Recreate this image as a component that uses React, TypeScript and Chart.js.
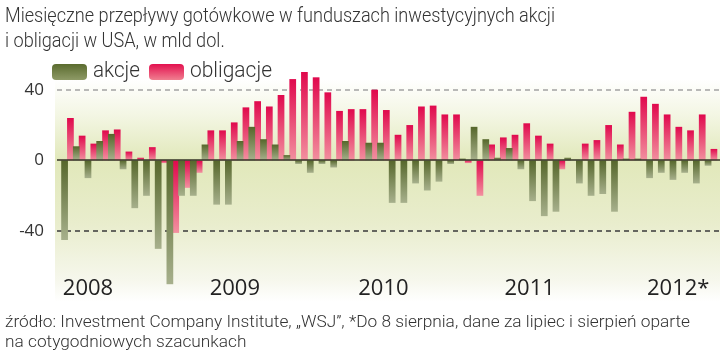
import React, { useEffect, useRef } from 'react';
import { Chart, registerables } from 'chart.js';

Chart.register(...registerables);

// ---- DATA ----
const months = [
  '2008-01','2008-02','2008-03','2008-04','2008-05','2008-06','2008-07','2008-08','2008-09','2008-10','2008-11','2008-12',
  '2009-01','2009-02','2009-03','2009-04','2009-05','2009-06','2009-07','2009-08','2009-09','2009-10','2009-11','2009-12',
  '2010-01','2010-02','2010-03','2010-04','2010-05','2010-06','2010-07','2010-08','2010-09','2010-10','2010-11','2010-12',
  '2011-01','2011-02','2011-03','2011-04','2011-05','2011-06','2011-07','2011-08','2011-09','2011-10','2011-11','2011-12',
  '2012-01','2012-02','2012-03','2012-04','2012-05','2012-06','2012-07','2012-08',
];

const akcje = [
  -45, 8, -10, 11, 15, -5, -27, -20, -50, -70, -20, -20,
  9, -25, -25, 11, 19, 12, 9, 3, -2, -7, -2, -4,
  11, 0, 10, 10, -24, -24, -13, -17, -12, -2, 1, 19,
  12, 1.5, 7, -5, -23, -31.5, -29, 1.5, -13, -20, -19, -29,
  1, 1, -10, -7, -11, -7, -13, -3,
];

const obligacje = [
  24, 14, 9.5, 17, 17.5, 5, 1.5, 7.5, -1.5, -41, -15.5, -7,
  17, 17, 21.5, 30, 33.5, 30.5, 37, 46, 50, 47, 38.5, 28,
  29, 29, 40, 28.5, 14.5, 20, 30.5, 31, 26, 26, -1.5, -20,
  9, 13, 14.5, 21, 14, 9.5, -5, 0, 9.5, 11.5, 20, 9,
  27.5, 36, 32, 26, 19, 17, 26, 6.5,
];

const yTickValues = [-40, 0, 40];
const yearLabels = ['2008', '2009', '2010', '2011', '2012*'];
const yearTickAt = [1.75, 14.3, 27, 39.5, 52.2];

const titleLines = [
  'Miesięczne przepływy gotówkowe w funduszach inwestycyjnych akcji',
  'i obligacji w USA, w mld dol.',
];
const legendLabels = ['akcje', 'obligacje'];
const footerLines = [
  'źródło: Investment Company Institute, „WSJ”, *Do 8 sierpnia, dane za lipiec i sierpień oparte',
  'na cotygodniowych szacunkach',
];

// ---- STYLES ----
const GREEN_TOP = '#56672b';
const GREEN_BOT = '#a7b08c';
const RED_TOP = '#e0094d';
const RED_BOT = '#f2909f';
const TEXT_FAMILY = 'Roboto, "Noto Sans", sans-serif';

function measure(text: string, font: string): number {
  const c = document.createElement('canvas').getContext('2d');
  if (!c) return 1;
  c.font = font;
  return c.measureText(text).width || 1;
}

function FitText(props: {
  lines: string[];
  size: number;
  lineHeight: number;
  weight: number;
  target: number;
  left: number;
  top: number;
  color: string;
}) {
  const font = `${props.weight} ${props.size}px ${TEXT_FAMILY}`;
  const k = props.target / measure(props.lines[0], font);
  return (
    <div
      style={{
        position: 'absolute',
        left: props.left,
        top: props.top,
        font,
        lineHeight: `${props.lineHeight}px`,
        color: props.color,
        whiteSpace: 'nowrap',
        transform: `scaleX(${k})`,
        transformOrigin: '0 0',
      }}
    >
      {props.lines.map((l, i) => (
        <div key={i}>{l}</div>
      ))}
    </div>
  );
}

function barGradient(top: string, bot: string) {
  return (ctx: any) => {
    const chart = ctx.chart;
    if (!chart.chartArea || ctx.type !== 'data') return top;
    const ys = chart.scales.y;
    const v = Number(ctx.raw);
    const p0 = ys.getPixelForValue(0);
    const p1 = ys.getPixelForValue(v);
    const a = Math.min(p0, p1);
    const b = Math.max(p0, p1);
    if (b - a < 1) return top;
    const g = chart.ctx.createLinearGradient(0, a, 0, b);
    g.addColorStop(0, top);
    g.addColorStop(1, bot);
    return g;
  };
}

const bandPlugin = {
  id: 'band',
  beforeDraw(chart: any) {
    const { ctx } = chart;
    const y = chart.scales.y;
    const yTop = y.getPixelForValue(46);
    const y0 = y.getPixelForValue(0);
    const yBot = y.getPixelForValue(-80);
    const f0 = (y0 - yTop) / (yBot - yTop);
    const g = ctx.createLinearGradient(0, yTop, 0, yBot);
    g.addColorStop(0, '#ffffff');
    g.addColorStop(f0 * 0.45, '#f3f6e3');
    g.addColorStop(f0, '#e1e8ba');
    g.addColorStop(f0 + (1 - f0) * 0.45, '#e9edcd');
    g.addColorStop(0.9, '#f6f7ec');
    g.addColorStop(1, '#ffffff');
    ctx.save();
    ctx.fillStyle = g;
    ctx.fillRect(55, yTop, 720 - 55, yBot - yTop);
    ctx.setLineDash([5, 4]);
    ctx.lineWidth = 1.5;
    y.ticks.forEach((t: any) => {
      if (t.value === 0) return;
      const py = Math.round(y.getPixelForValue(t.value));
      ctx.strokeStyle = t.value > 0 ? '#a3a3a3' : '#3a3a3a';
      ctx.beginPath();
      ctx.moveTo(57, py);
      ctx.lineTo(720, py);
      ctx.stroke();
    });
    ctx.restore();
  },
  afterDatasetsDraw(chart: any) {
    const { ctx } = chart;
    const y = chart.scales.y;
    const py = Math.round(y.getPixelForValue(0));
    ctx.save();
    ctx.strokeStyle = '#333326';
    ctx.lineWidth = 1.6;
    ctx.beginPath();
    ctx.moveTo(57, py);
    ctx.lineTo(720, py);
    ctx.stroke();
    ctx.restore();
  },
};

export default function App() {
  const canvasRef = useRef<HTMLCanvasElement | null>(null);

  useEffect(() => {
    if (!canvasRef.current) return;
    const chart = new Chart(canvasRef.current, {
      type: 'bar',
      data: {
        labels: months,
        datasets: [
          {
            label: legendLabels[0],
            data: akcje,
            backgroundColor: barGradient(GREEN_TOP, GREEN_BOT),
            categoryPercentage: 1,
            barPercentage: 1.15,
            clip: false,
          } as any,
          {
            label: legendLabels[1],
            data: obligacje,
            backgroundColor: barGradient(RED_TOP, RED_BOT),
            categoryPercentage: 1,
            barPercentage: 1.15,
            clip: false,
          } as any,
        ],
      },
      options: {
        responsive: true,
        maintainAspectRatio: false,
        animation: false,
        events: [],
        layout: { padding: { left: 0, right: 3.15, top: 61.4, bottom: 58 } },
        plugins: {
          legend: { display: false },
          title: { display: false },
          tooltip: { enabled: false },
        },
        scales: {
          x: {
            type: 'category',
            display: false,
          },
          xYear: {
            type: 'linear',
            axis: 'x',
            position: 'bottom',
            offset: false,
            bounds: 'data',
            min: -0.5,
            max: 55.5,
            grid: { display: false, drawTicks: false, offset: false },
            border: { display: false },
            afterBuildTicks: (scale: any) => {
              scale.ticks = yearTickAt.map((v) => ({ value: v }));
            },
            ticks: {
              autoSkip: false,
              maxRotation: 0,
              padding: 2,
              color: '#222222',
              font: { family: '"Open Sans", sans-serif', size: 22 },
              callback: (_v: any, i: number) => yearLabels[i] ?? '',
            },
          } as any,
          y: {
            type: 'linear',
            position: 'left',
            bounds: 'data',
            min: -64,
            max: 56,
            afterFit: (scale: any) => {
              scale.width = 61.65;
            },
            afterBuildTicks: (scale: any) => {
              scale.ticks = yTickValues.map((v) => ({ value: v }));
            },
            grid: { display: false, drawTicks: false },
            border: { display: false },
            ticks: {
              padding: 17.6,
              color: '#333333',
              font: { family: '"Open Sans", sans-serif', size: 17 },
              callback: (v: any) => String(v),
            },
          } as any,
        },
      },
      plugins: [bandPlugin],
    });
    return () => chart.destroy();
  }, []);

  const swatch = (top: string, bot: string, left: number) => (
    <div
      style={{
        position: 'absolute',
        left,
        top: 64,
        width: 35,
        height: 16,
        borderRadius: 4,
        background: `linear-gradient(${top}, ${bot})`,
      }}
    />
  );

  return (
    <div
      style={{
        position: 'absolute',
        left: 0,
        top: 0,
        width: 720,
        height: 362,
        background: '#ffffff',
        overflow: 'hidden',
      }}
    >
      <div style={{ position: 'absolute', left: 0, top: 0, width: 720, height: 362 }}>
        <canvas ref={canvasRef} />
      </div>
      <FitText lines={titleLines} size={21} lineHeight={24.5} weight={300} target={550} left={5} top={3} color="#333" />
      {swatch('#5a6b2e', '#8e9a66', 52)}
      <FitText lines={[legendLabels[0]]} size={22} lineHeight={26} weight={300} target={47} left={93} top={57} color="#333" />
      {swatch('#e3104f', '#f07f90', 149)}
      <FitText lines={[legendLabels[1]]} size={22} lineHeight={26} weight={300} target={82} left={190} top={57} color="#333" />
      <FitText lines={footerLines} size={17} lineHeight={19.5} weight={300} target={685} left={5} top={312} color="#333" />
    </div>
  );
}
